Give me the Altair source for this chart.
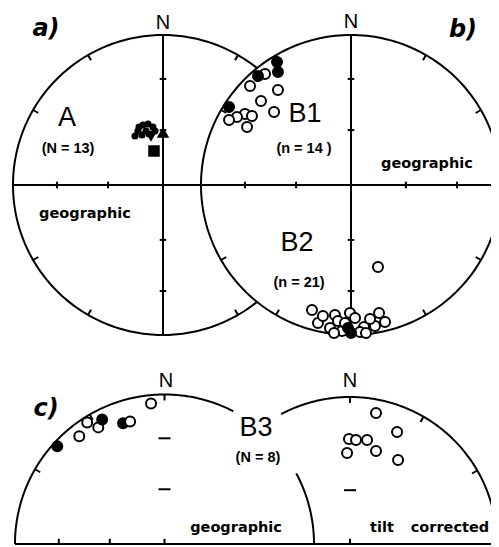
import altair as alt
import numpy as np
import pandas as pd

# ---------------- data: equal-area net positions (east, north), normalised to net radius ----------
# Site A  (panel a, geographic)
A_dots_e = [-0.187, -0.160, -0.133, -0.100, -0.067, -0.053, -0.113, -0.093, -0.140, -0.167]
A_dots_n = [0.327, 0.387, 0.400, 0.407, 0.387, 0.360, 0.360, 0.340, 0.333, 0.360]
A_sym_shape = ["triangle-up", "triangle-down", "square"]
A_sym_e = [0.0, -0.080, -0.060]
A_sym_n = [0.347, 0.327, 0.227]

# Site B1 (panel b, geographic)
B1_filled_e = [-0.493, -0.487, -0.620, -0.813]
B1_filled_n = [0.820, 0.753, 0.727, 0.520]
B1_open_e = [-0.573, -0.673, -0.487, -0.600, -0.513, -0.707, -0.760, -0.813, -0.693, -0.660]
B1_open_n = [0.740, 0.660, 0.633, 0.560, 0.487, 0.473, 0.453, 0.433, 0.387, 0.460]

# Site B2 (panel b, geographic)
B2_filled_e = [-0.020, 0.000]
B2_filled_n = [-0.953, -0.987]
B2_open_e = [0.180, -0.260, -0.107, -0.007, 0.187, -0.220, -0.140, -0.087, 0.027, 0.087,
             0.160, 0.227, -0.060, 0.060, -0.187, -0.040, 0.127, 0.100, -0.113]
B2_open_n = [-0.547, -0.833, -0.867, -0.853, -0.853, -0.920, -0.953, -0.907, -0.887, -0.947,
             -0.940, -0.913, -0.973, -0.980, -0.873, -0.920, -0.893, -0.987, -0.987]

# Site B3 (panel c) geographic
B3g_filled_e = [-0.717, -0.417]
B3g_filled_n = [0.653, 0.833]
B3g_half_e = [-0.277]
B3g_half_n = [0.807]
B3g_open_e = [-0.517, -0.570, -0.443, -0.230, -0.090]
B3g_open_n = [0.813, 0.720, 0.780, 0.820, 0.940]
# Site B3 tilt corrected
B3t_open_e = [0.177, 0.320, -0.007, 0.041, 0.116, 0.177, -0.020, 0.327]
B3t_open_n = [0.891, 0.762, 0.714, 0.707, 0.707, 0.633, 0.619, 0.571]

# ---------------- layout (net centres / radii in plot units) ----------------
CA, RA = (0.0, 0.0), 1.0
CB, RB = (1.2533, 0.0), 1.0
CL, RL = (0.01, -2.3933), 0.9967
CR, RR = (1.2467, -2.3933), 0.98
W, H = 483, 539
XD = [-1.0333, -1.0333 + W / 150.0]
YD = [1.18 - H / 150.0, 1.18]

# ---------------- net outlines ----------------
line_rows = []
seg = 0


def arc(c, R, a0, a1):
    global seg
    az = np.radians(np.linspace(a0, a1, 240))
    for i, a in enumerate(az):
        line_rows.append({"x": c[0] + R * np.sin(a), "y": c[1] + R * np.cos(a), "seg": seg, "i": i})
    seg += 1


half = np.degrees(np.arccos((CB[0] - CA[0]) / 2.0))
arc(CA, RA, 90 + half, 450 - half)       # circle a, hidden where it lies inside b
arc(CB, RB, 0, 360)
arc(CL, RL, -90, 27.4)
arc(CL, RL, 61.8, 90)
arc(CR, RR, -27.9, 90)
lines_df = pd.DataFrame(line_rows)

rules = []


def rule(x, y, x2, y2):
    rules.append({"x": x, "y": y, "x2": x2, "y2": y2})


# cross lines
rule(CA[0] - RA, 0, CB[0] + RB, 0)
rule(CA[0], RA, CA[0], -RA)
rule(CB[0], RB, CB[0], -RB)
rule(CL[0] - RL, CL[1], CR[0] + RR, CR[1])

TL = 0.04


def radial(c, R, az):
    a = np.radians(az)
    rule(c[0] + R * np.sin(a), c[1] + R * np.cos(a),
         c[0] + (R - TL) * np.sin(a), c[1] + (R - TL) * np.cos(a))


def inside_b(x, y):
    return (x - CB[0]) ** 2 + (y - CB[1]) ** 2 < RB ** 2 - 1e-6


for az in [30, 60, 120, 150, 210, 240, 300, 330]:
    a = np.radians(az)
    if not inside_b(CA[0] + np.sin(a), CA[1] + np.cos(a)):
        radial(CA, RA, az)
    radial(CB, RB, az)
for az in [-60, -30, 0]:
    radial(CL, RL, az)
for az in [0, 30, 60]:
    radial(CR, RR, az)

rr = [0.366, 0.707]
k = 0.022
for c in [CA, CB]:
    for r in rr:
        for s in [1, -1]:
            rule(c[0] - k, c[1] + s * r, c[0] + k, c[1] + s * r)
            xx = c[0] + s * r
            if c is CA and inside_b(xx, 0):
                continue
            rule(xx, c[1] - k, xx, c[1] + k)
for c, R in [(CL, RL), (CR, RR)]:
    for r in rr:
        rule(c[0] - 0.04, c[1] + R * r, c[0] + 0.04, c[1] + R * r)
    rule(c[0], c[1], c[0], c[1] + 0.035)
for r in rr:
    rule(CL[0] - RL * r, CL[1], CL[0] - RL * r, CL[1] + 0.035)
rules_df = pd.DataFrame(rules)

# ---------------- points ----------------
pts = []
OPEN_SIZE = 100


def add(c, R, es, ns, shape, fill, size, z):
    for e, n in zip(es, ns):
        pts.append({"x": c[0] + R * e, "y": c[1] + R * n, "shape": shape, "fill": fill, "size": size, "z": z})


add(CA, RA, A_dots_e, A_dots_n, "circle", "black", 26, 2)
for s, e, n in zip(A_sym_shape, A_sym_e, A_sym_n):
    add(CA, RA, [e], [n], s, "black", 80 if s != "square" else 90, 2)
add(CB, RB, B1_open_e, B1_open_n, "circle", "white", OPEN_SIZE, 1)
add(CB, RB, B1_filled_e, B1_filled_n, "circle", "black", OPEN_SIZE, 2)
add(CB, RB, B2_open_e, B2_open_n, "circle", "white", OPEN_SIZE, 1)
add(CB, RB, B2_filled_e, B2_filled_n, "circle", "black", OPEN_SIZE, 2)
add(CL, RL, B3g_half_e, B3g_half_n, "circle", "black", OPEN_SIZE, 0)
add(CL, RL, B3g_open_e, B3g_open_n, "circle", "white", OPEN_SIZE, 1)
add(CL, RL, B3g_filled_e, B3g_filled_n, "circle", "black", OPEN_SIZE, 2)
add(CR, RR, B3t_open_e, B3t_open_n, "circle", "white", OPEN_SIZE, 1)
pts_df = pd.DataFrame(pts)

# ---------------- labels ----------------
panel_lbl = pd.DataFrame({"t": ["a)", "b)", "c)"], "x": [-0.78, 2.0, -0.78], "y": [1.04, 1.033, -1.493]})
north_lbl = pd.DataFrame({"t": ["N"] * 4, "x": [0.0, 1.2533, 0.02, 1.2467], "y": [1.08, 1.087, -1.307, -1.307]})
site_lbl = pd.DataFrame({"t": ["A", "B1", "B2", "B3"], "x": [-0.64, 0.947, 0.893, 0.62],
                         "y": [0.447, 0.473, -0.387, -1.62]})
count_lbl = pd.DataFrame({"t": ["(N  =  13)", "(n  =  14 )", "(n  =  21)", "(N  =  8)"],
                          "x": [-0.633, 0.94, 0.907, 0.633], "y": [0.24, 0.24, -0.653, -1.82]})
frame_lbl = pd.DataFrame({"t": ["geographic", "geographic", "geographic", "tilt", "corrected"],
                          "x": [-0.52, 1.76, 0.487, 1.46, 1.913],
                          "y": [-0.193, 0.14, -2.287, -2.287, -2.287]})

X = alt.X("x:Q", scale=alt.Scale(domain=XD, nice=False, zero=False), axis=None)
Y = alt.Y("y:Q", scale=alt.Scale(domain=YD, nice=False, zero=False), axis=None)

lines = alt.Chart(lines_df).mark_line(color="black", strokeWidth=2).encode(
    x=X, y=Y, detail="seg:N", order="i:Q")
rules_l = alt.Chart(rules_df).mark_rule(color="black", strokeWidth=2).encode(
    x=X, y=Y, x2="x2:Q", y2="y2:Q")
points = alt.Chart(pts_df).mark_point(filled=True, stroke="black", strokeWidth=2,
                                      opacity=1, fillOpacity=1).encode(
    x=X, y=Y,
    shape=alt.Shape("shape:N", scale=None),
    fill=alt.Fill("fill:N", scale=None),
    size=alt.Size("size:Q", scale=None),
    order=alt.Order("z:Q"))


def txt(df, **kw):
    return alt.Chart(df).mark_text(color="black", align="center", baseline="middle", **kw).encode(
        x=X, y=Y, text="t:N")


t_panel = txt(panel_lbl, font="DejaVu Sans", fontSize=24, fontWeight="bold", fontStyle="italic")
t_north = txt(north_lbl, font="Liberation Sans", fontSize=20)
t_site = txt(site_lbl, font="Liberation Sans", fontSize=27)
t_count = txt(count_lbl, font="Liberation Sans", fontSize=14.5, fontWeight="bold")
t_frame = txt(frame_lbl, font="DejaVu Sans", fontSize=14.5, fontWeight="bold")

chart = alt.layer(lines, rules_l, points, t_panel, t_north, t_site, t_count, t_frame).properties(
    width=W, height=H, autosize=alt.AutoSizeParams(type="none"), padding=0,
    background="white").configure_view(stroke=None)

chart.save("out.html", embed_options={"renderer": "svg", "actions": False})
